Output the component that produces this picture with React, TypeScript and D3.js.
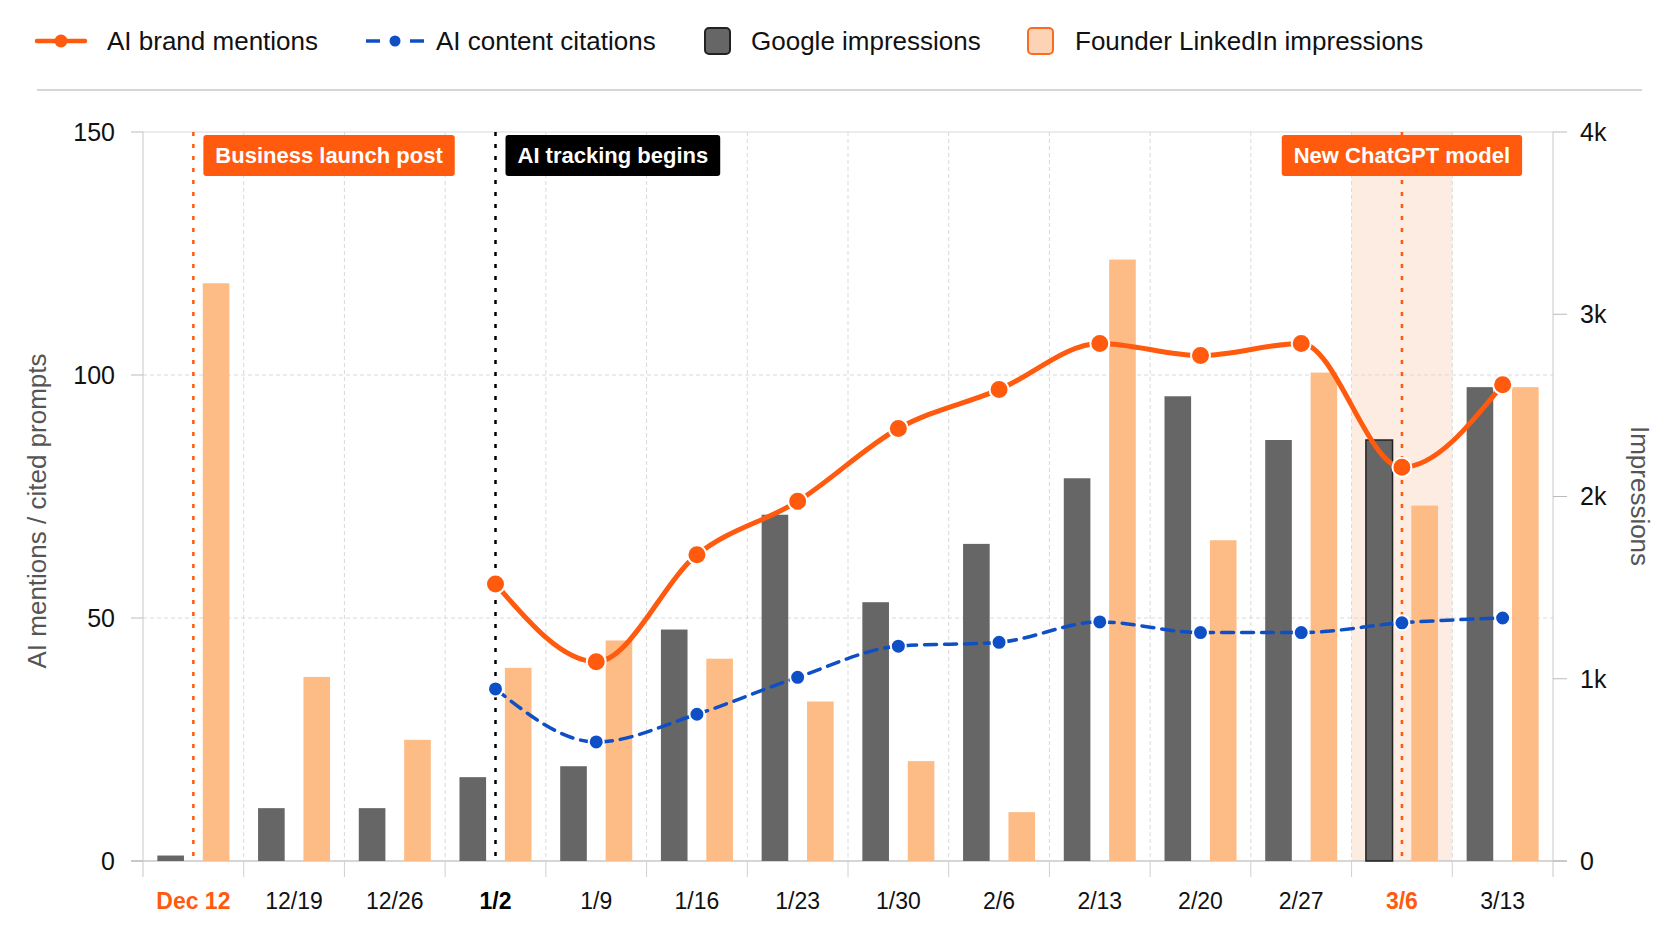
import { useEffect, useRef } from 'react';
import * as d3 from 'd3';

const weeks = ['Dec 12', '12/19', '12/26', '1/2', '1/9', '1/16', '1/23', '1/30', '2/6', '2/13', '2/20', '2/27', '3/6', '3/13'];
const googleImpressions = [30, 290, 290, 460, 520, 1270, 1900, 1420, 1740, 2100, 2550, 2310, 2310, 2600];
const linkedinImpressions = [3170, 1010, 665, 1060, 1210, 1110, 875, 548, 268, 3300, 1760, 2680, 1950, 2600];
// AI series start at 1/2 (tracking begins)
const brandMentions: (number | null)[] = [null, null, null, 57, 41, 63, 74, 89, 97, 106.5, 104, 106.5, 81, 98];
const contentCitations: (number | null)[] = [null, null, null, 35.4, 24.5, 30.2, 37.8, 44.2, 45, 49.2, 47, 47, 49, 50];
const leftTicks = [0, 50, 100, 150];
const rightTicks = [0, 1000, 2000, 3000, 4000];
const annotations = [
    { week: 'Dec 12', label: 'Business launch post', color: '#ff5a0d', align: 'right' },
    { week: '1/2', label: 'AI tracking begins', color: '#000000', align: 'right' },
    { week: '3/6', label: 'New ChatGPT model', color: '#ff5a0d', align: 'center' },
];

const W = 1666;
const H = 944;
const margin = { top: 132, right: 113, bottom: 83, left: 143 };
const FONT = '"Liberation Sans", Arial, Helvetica, sans-serif';
const ORANGE = '#ff5a0d';
const BLUE = '#0f4fc6';
const GRAY = '#666666';
const PEACH = '#fdbb85';

const App = () => {
    const svgRef = useRef<SVGSVGElement>(null);

    useEffect(() => {
        const root = d3.select(svgRef.current);
        root.selectAll('*').remove();

        const x0 = margin.left;
        const x1 = W - margin.right;
        const yTop = margin.top;
        const yBot = H - margin.bottom;

        const x = d3.scaleBand().domain(weeks).range([x0, x1]).padding(0);
        const xs = d3.scaleBand().domain(['g', 'l']).range([0, x.bandwidth()]).paddingInner(0.414).paddingOuter(0.316);
        const yL = d3.scaleLinear().domain([0, 150]).range([yBot, yTop]);
        const yR = d3.scaleLinear().domain([0, 4000]).range([yBot, yTop]);
        const cx = (w: string) => (x(w) ?? 0) + x.bandwidth() / 2;

        // legend
        const lg = root.append('g').attr('font-family', FONT).attr('font-size', 26).attr('fill', '#111');
        const ly = 41;
        lg.append('line').attr('x1', 37).attr('x2', 85).attr('y1', ly).attr('y2', ly).attr('stroke', ORANGE).attr('stroke-width', 4.5).attr('stroke-linecap', 'round');
        lg.append('circle').attr('cx', 61).attr('cy', ly).attr('r', 6.5).attr('fill', ORANGE);
        lg.append('text').attr('x', 107).attr('y', ly).attr('dy', '0.35em').text('AI brand mentions');
        lg.append('line').attr('x1', 366).attr('x2', 380).attr('y1', ly).attr('y2', ly).attr('stroke', BLUE).attr('stroke-width', 3.5);
        lg.append('line').attr('x1', 410).attr('x2', 424).attr('y1', ly).attr('y2', ly).attr('stroke', BLUE).attr('stroke-width', 3.5);
        lg.append('circle').attr('cx', 395).attr('cy', ly).attr('r', 5.5).attr('fill', BLUE);
        lg.append('text').attr('x', 436).attr('y', ly).attr('dy', '0.35em').text('AI content citations');
        lg.append('rect').attr('x', 705).attr('y', ly - 13).attr('width', 25).attr('height', 26).attr('rx', 4).attr('fill', GRAY).attr('stroke', '#222').attr('stroke-width', 2);
        lg.append('text').attr('x', 751).attr('y', ly).attr('dy', '0.35em').text('Google impressions');
        lg.append('rect').attr('x', 1028).attr('y', ly - 13).attr('width', 25).attr('height', 26).attr('rx', 4).attr('fill', '#fdd3b5').attr('stroke', '#ff6a22').attr('stroke-width', 2);
        lg.append('text').attr('x', 1075).attr('y', ly).attr('dy', '0.35em').text('Founder LinkedIn impressions');

        root.append('line').attr('x1', 37).attr('x2', 1642).attr('y1', 90).attr('y2', 90).attr('stroke', '#c8c8c8').attr('stroke-width', 1.5);

        // highlighted week band
        root.append('rect')
            .attr('x', x('3/6') ?? 0).attr('y', yTop)
            .attr('width', x.bandwidth()).attr('height', yBot - yTop)
            .attr('fill', '#fde9dc').attr('opacity', 0.85);

        // grid
        const grid = root.append('g').attr('stroke', '#d9d9d9').attr('stroke-width', 1);
        weeks.slice(1).forEach(w => {
            grid.append('line').attr('x1', x(w) ?? 0).attr('x2', x(w) ?? 0).attr('y1', yTop).attr('y2', yBot).attr('stroke-dasharray', '4,3');
        });
        leftTicks.filter(t => t > 0).forEach(t => {
            grid.append('line').attr('x1', x0).attr('x2', x1).attr('y1', yL(t)).attr('y2', yL(t))
                .attr('stroke-dasharray', t === 150 ? null : '4,3');
        });

        // axes
        const axG = root.append('g').attr('font-family', FONT).attr('font-size', 25);
        axG.append('line').attr('x1', x0).attr('x2', x0).attr('y1', yTop).attr('y2', yBot + 16).attr('stroke', '#c8c8c8');
        axG.append('line').attr('x1', x1).attr('x2', x1).attr('y1', yTop).attr('y2', yBot + 16).attr('stroke', '#c8c8c8');
        axG.append('line').attr('x1', x0 - 12).attr('x2', x1 + 14).attr('y1', yBot).attr('y2', yBot).attr('stroke', '#c8c8c8').attr('stroke-width', 1.5);
        weeks.slice(1).forEach(w => {
            axG.append('line').attr('x1', x(w) ?? 0).attr('x2', x(w) ?? 0).attr('y1', yBot).attr('y2', yBot + 16).attr('stroke', '#d0d0d0');
        });
        leftTicks.forEach(t => {
            axG.append('line').attr('x1', x0 - 12).attr('x2', x0).attr('y1', yL(t)).attr('y2', yL(t)).attr('stroke', '#bbb');
            axG.append('text').attr('x', x0 - 28).attr('y', yL(t)).attr('dy', '0.35em').attr('text-anchor', 'end').attr('fill', '#111').text(t);
        });
        rightTicks.forEach(t => {
            axG.append('line').attr('x1', x1).attr('x2', x1 + 14).attr('y1', yR(t)).attr('y2', yR(t)).attr('stroke', '#bbb');
            axG.append('text').attr('x', x1 + 27).attr('y', yR(t)).attr('dy', '0.35em').attr('fill', '#111').text(t === 0 ? '0' : `${t / 1000}k`);
        });
        weeks.forEach(w => {
            const special = w === 'Dec 12' || w === '3/6' ? ORANGE : w === '1/2' ? '#000' : null;
            axG.append('text').attr('x', cx(w)).attr('y', yBot + 40).attr('dy', '0.35em').attr('text-anchor', 'middle')
                .attr('font-size', 23)
                .attr('fill', special ?? '#111').attr('font-weight', special ? 'bold' : 'normal').text(w);
        });
        axG.append('text').attr('transform', `translate(37,${511}) rotate(-90)`).attr('text-anchor', 'middle').attr('dy', '0.35em')
            .attr('fill', '#555').attr('font-size', 26).text('AI mentions / cited prompts');
        axG.append('text').attr('transform', `translate(1640,${496}) rotate(90)`).attr('text-anchor', 'middle').attr('dy', '0.35em')
            .attr('fill', '#555').attr('font-size', 26).text('Impressions');

        // bars
        const bars = root.append('g');
        weeks.forEach((w, i) => {
            const bx = x(w) ?? 0;
            bars.append('rect').attr('x', bx + (xs('g') ?? 0)).attr('width', xs.bandwidth())
                .attr('y', yR(googleImpressions[i])).attr('height', yBot - yR(googleImpressions[i]))
                .attr('fill', GRAY)
                .attr('stroke', w === '3/6' ? '#222' : 'none').attr('stroke-width', 1.5);
            bars.append('rect').attr('x', bx + (xs('l') ?? 0)).attr('width', xs.bandwidth())
                .attr('y', yR(linkedinImpressions[i])).attr('height', yBot - yR(linkedinImpressions[i]))
                .attr('fill', PEACH);
        });

        // annotation lines
        annotations.forEach(a => {
            root.append('line').attr('x1', cx(a.week)).attr('x2', cx(a.week)).attr('y1', yTop).attr('y2', yBot)
                .attr('stroke', a.color).attr('stroke-width', 2.5).attr('stroke-dasharray', '4,8');
        });

        // lines
        const drawSeries = (vals: (number | null)[], color: string, width: number, dash: string | null, r: number) => {
            const pts = weeks.map((w, i) => ({ w, v: vals[i] })).filter(d => d.v !== null) as { w: string; v: number }[];
            const line = d3.line<{ w: string; v: number }>().x(d => cx(d.w)).y(d => yL(d.v)).curve(d3.curveMonotoneX);
            root.append('path').attr('d', line(pts)).attr('fill', 'none').attr('stroke', color)
                .attr('stroke-width', width).attr('stroke-dasharray', dash).attr('stroke-linecap', 'round');
            root.append('g').selectAll('circle').data(pts).join('circle')
                .attr('cx', d => cx(d.w)).attr('cy', d => yL(d.v)).attr('r', r)
                .attr('fill', color).attr('stroke', '#fff').attr('stroke-width', 2);
        };
        drawSeries(contentCitations, BLUE, 3.5, '12,8', 7.5);
        drawSeries(brandMentions, ORANGE, 5, null, 9.5);

        // annotation labels
        annotations.forEach(a => {
            const g = root.append('g');
            const t = g.append('text').attr('font-family', FONT).attr('font-size', 22).attr('font-weight', 'bold')
                .attr('fill', '#fff').attr('dy', '0.35em').text(a.label);
            const tw = (t.node() as SVGTextElement).getComputedTextLength();
            const bw = tw + 24;
            const bh = 41;
            const left = a.align === 'center' ? cx(a.week) - bw / 2 : cx(a.week) + 10;
            const top = 135;
            g.insert('rect', 'text').attr('x', left).attr('y', top).attr('width', bw).attr('height', bh).attr('rx', 3).attr('fill', a.color);
            t.attr('x', left + 12).attr('y', top + bh / 2);
        });
    }, []);

    return (
        <svg ref={svgRef} width={W} height={H} style={{ position: 'absolute', left: 0, top: 0, background: '#fff' }}></svg>
    );
};

export default App;
